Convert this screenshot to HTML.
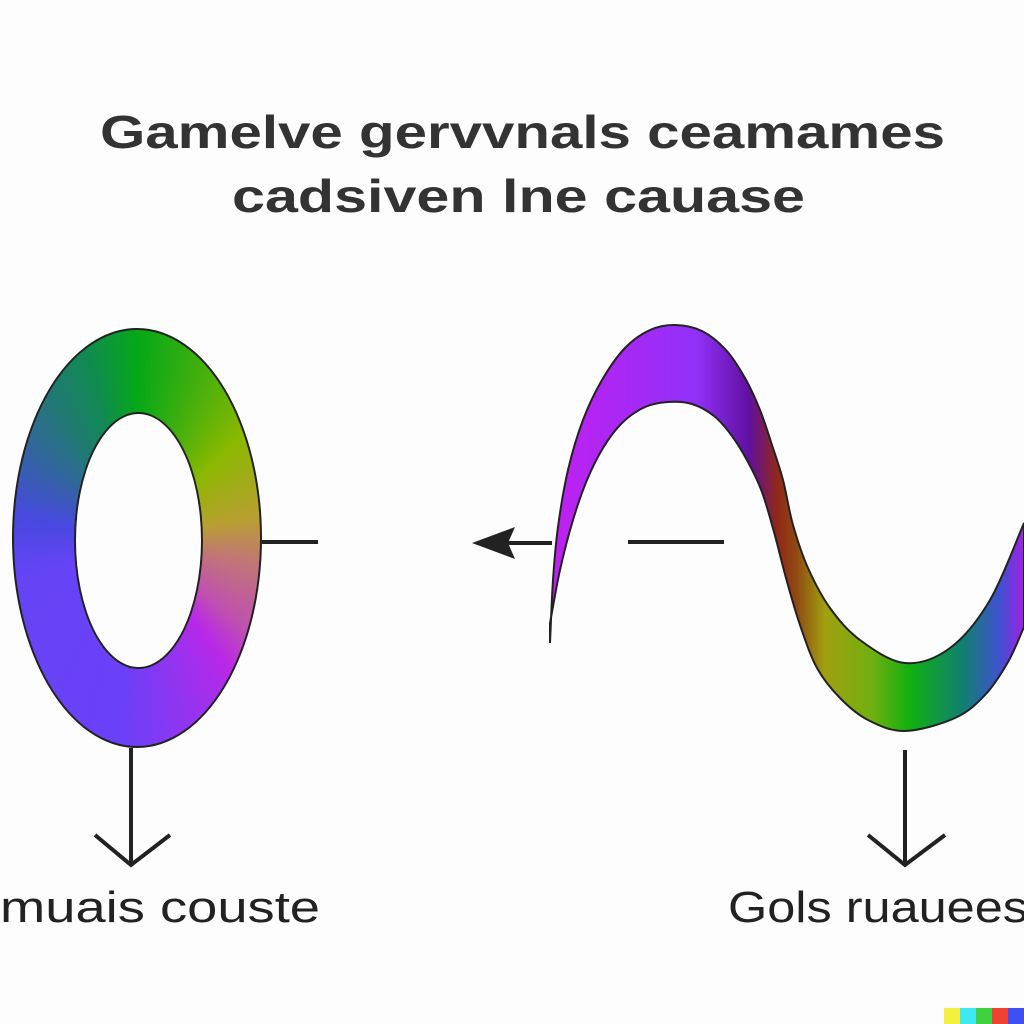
<!DOCTYPE html>
<html><head><meta charset="utf-8"><style>
html,body{margin:0;padding:0;background:#fdfdfd;width:1024px;height:1024px;overflow:hidden;position:relative;font-family:"Liberation Sans",sans-serif}
.ring{position:absolute;left:12px;top:328px;width:250px;height:420px;border-radius:50%;box-sizing:border-box;border:2px solid #222;
background:conic-gradient(from 0deg,#05a818 0deg,#8ab800 45deg,#b8a030 80deg,#c07a70 100deg,#c050b0 130deg,#b828e8 145deg,#6a40f8 185deg,#6644f6 250deg,#4848e0 280deg,#2a7088 320deg,#108a50 345deg,#05a818 360deg)}
.hole{position:absolute;left:74px;top:412px;width:129px;height:257px;border-radius:50%;background:#fdfdfd;box-sizing:border-box;border:2px solid #222}
svg{position:absolute;left:0;top:0}
</style></head><body>
<div class="ring"></div>
<div class="hole"></div>
<svg width="1024" height="1024">
<defs>
<linearGradient id="wg" x1="550" y1="0" x2="1024" y2="0" gradientUnits="userSpaceOnUse">
<stop offset="0" stop-color="#c020f0"/><stop offset="0.31" stop-color="#9030f8"/><stop offset="0.42" stop-color="#6010a0"/>
<stop offset="0.48" stop-color="#902818"/><stop offset="0.52" stop-color="#904a10"/><stop offset="0.58" stop-color="#a0a010"/>
<stop offset="0.68" stop-color="#70b010"/><stop offset="0.76" stop-color="#10b010"/><stop offset="0.87" stop-color="#108070"/>
<stop offset="0.95" stop-color="#4050d0"/><stop offset="1" stop-color="#a020e8"/></linearGradient></defs>
<path id="wave" d="" fill="url(#wg)" stroke="#222" stroke-width="2"/>
<g stroke="#222" stroke-width="4" fill="none">
<line x1="262" y1="542" x2="318" y2="542"/>
<line x1="495" y1="543" x2="552" y2="543"/>
<line x1="628" y1="542" x2="724" y2="542"/>
<line x1="131" y1="748" x2="131" y2="865"/>
<polyline points="95,835 131,865 170,835"/>
<line x1="905" y1="750" x2="905" y2="865"/>
<polyline points="868,835 905,865 945,835"/>
</g>
<polygon points="472,543 515,527 508,543 515,559" fill="#222"/>
<g fill="#333" font-family="Liberation Sans, sans-serif" font-weight="bold">
<text x="100" y="148" font-size="46" textLength="845" lengthAdjust="spacingAndGlyphs">Gamelve gervvnals ceamames</text>
<text x="232" y="212" font-size="46" textLength="573" lengthAdjust="spacingAndGlyphs">cadsiven lne cauase</text>
</g>
<g fill="#222" font-family="Liberation Sans, sans-serif">
<text x="0" y="922" font-size="44" textLength="320" lengthAdjust="spacingAndGlyphs">muais couste</text>
<text x="728" y="922" font-size="44" textLength="300" lengthAdjust="spacingAndGlyphs">Gols ruauees</text>
</g>
<g>
<rect x="944" y="1008" width="16" height="16" fill="#f4f040"/><rect x="960" y="1008" width="16" height="16" fill="#40e8f0"/>
<rect x="976" y="1008" width="16" height="16" fill="#40d040"/><rect x="992" y="1008" width="16" height="16" fill="#f04030"/>
<rect x="1008" y="1008" width="16" height="16" fill="#4050f0"/></g>
</svg>
<script>
const upper=[[550,643],[553,580],[558,527],[568,470],[583,420],[602,380],[625,348],[650,330],[675,325],[702,331],[726,350],[745,378],[760,410],[772,445],[783,480],[793,525],[808,568],[830,608],[860,640],[905,663],[950,648],[990,600],[1024,523]];
const lower=[[1024,627],[1008,662],[985,695],[955,718],[905,731],[868,720],[840,698],[817,668],[800,625],[786,578],[774,532],[762,492],[748,462],[732,436],[714,416],[692,404],[668,402],[645,407],[622,423],[603,448],[587,480],[573,520],[560,570],[550,623]];
function cr(p){let d='';for(let i=0;i<p.length-1;i++){const a=p[Math.max(0,i-1)],b=p[i],c=p[i+1],e=p[Math.min(p.length-1,i+2)];
const c1=[b[0]+(c[0]-a[0])/6,b[1]+(c[1]-a[1])/6],c2=[c[0]-(e[0]-b[0])/6,c[1]-(e[1]-b[1])/6];
d+=' C'+c1[0].toFixed(1)+','+c1[1].toFixed(1)+' '+c2[0].toFixed(1)+','+c2[1].toFixed(1)+' '+c[0]+','+c[1];}return d;}
document.getElementById('wave').setAttribute('d','M'+upper[0].join(',')+cr(upper)+' L'+lower[0].join(',')+cr(lower)+' Z');
</script>
</body></html>
